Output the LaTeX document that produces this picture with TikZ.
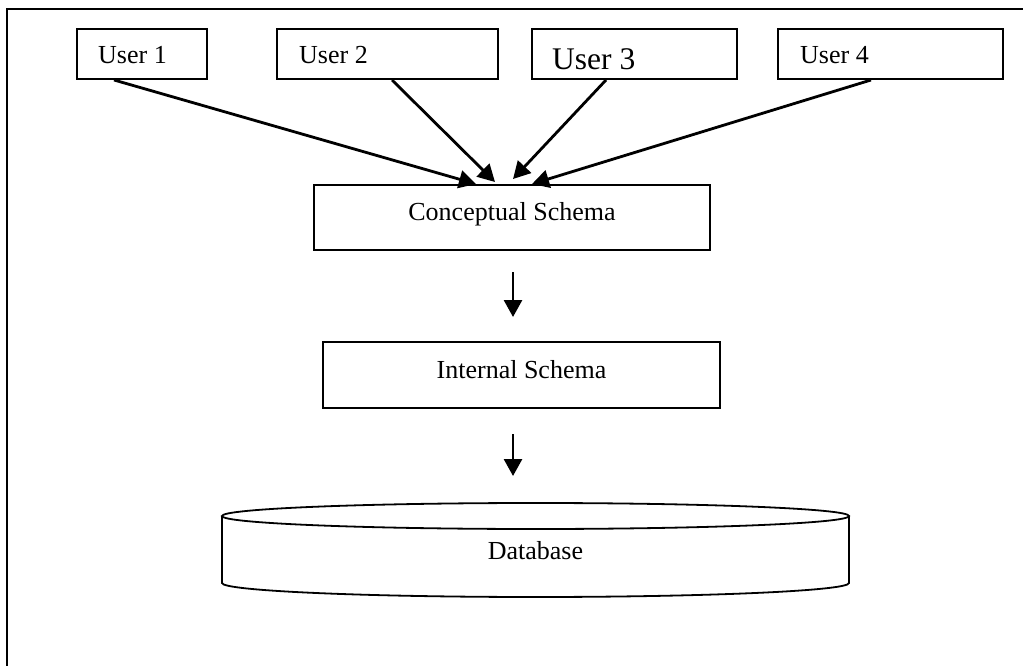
\documentclass[tikz,border=0pt]{standalone}
\usepackage{fontspec}
\setmainfont{Liberation Serif}
\usetikzlibrary{arrows.meta}
\begin{document}
\begin{tikzpicture}[x=1pt,y=1pt,
  boxline/.style={draw=black, line width=2pt, fill=none, inner sep=0pt},
  lbl/.style={inner sep=0pt, font=\fontsize{26}{30}\selectfont},
  biglbl/.style={inner sep=0pt, font=\fontsize{31.5}{36}\selectfont},
  arr/.style={line width=2.8pt, -{Triangle[width=18pt,length=17pt]}},
  frameline/.style={line width=2pt}]
\useasboundingbox (0,0) rectangle (1023,-666);
\clip (0,0) rectangle (1023,-666);

% outer frame (runs off the page on the right and bottom)
\draw[frameline] (7,-9.5) rectangle (1100,-800);

% user boxes
\node[boxline, minimum width=130, minimum height=50] (u1) at (142,-54) {};
\node[boxline, minimum width=221, minimum height=50] (u2) at (387.5,-54) {};
\node[boxline, minimum width=205, minimum height=50] (u3) at (634.5,-54) {};
\node[boxline, minimum width=225, minimum height=50] (u4) at (890.5,-54) {};
\node[lbl, anchor=base west] (t1) at (98,-64) {User 1};
\node[lbl, anchor=base west] (t2) at (299,-64) {User 2};
\node[biglbl, anchor=base west] (t3) at (552,-70) {User 3};
\node[lbl, anchor=base west] (t4) at (800,-64) {User 4};

% schema boxes
\node[boxline, minimum width=396, minimum height=65] (cs) at (512,-217.5) {};
\node[lbl, anchor=base] (cst) at (512,-220) {Conceptual Schema};
\node[boxline, minimum width=397, minimum height=66] (is) at (521.5,-375) {};
\node[lbl, anchor=base] (ist) at (521.5,-378) {Internal Schema};

% database cylinder
\draw[line width=1.8pt] (222,-516) -- (222,-583)
  arc[start angle=180, end angle=360, x radius=313.5, y radius=14]
  -- (849,-516);
\draw[line width=1.8pt] (535.5,-516) ellipse [x radius=313.5, y radius=13];
\node[lbl, anchor=base] (db) at (535.5,-559) {Database};

% connectors from the users to the conceptual schema
\draw[arr] ([xshift=38]u1.south west) -- ([xshift=163]cs.north west);
\draw[arr] ([xshift=116]u2.south west) -- ([xshift=182,yshift=2]cs.north west);
\draw[arr] ([xshift=75]u3.south west) -- ([xshift=200,yshift=5]cs.north west);
\draw[arr] ([xshift=94]u4.south west) -- ([xshift=219]cs.north west);

% mapping arrows between the levels
\draw[arr] ([xshift=1,yshift=-21]cs.south) -- ([xshift=1,yshift=-66]cs.south);
\draw[arr] ([xshift=-8.5,yshift=-25]is.south) -- ([xshift=-8.5,yshift=-67]is.south);
\end{tikzpicture}
\end{document}
